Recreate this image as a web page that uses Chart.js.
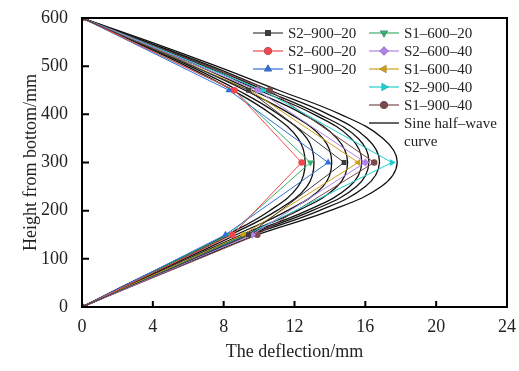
<!DOCTYPE html>
<html>
<head>
<meta charset="utf-8">
<script src="https://cdn.jsdelivr.net/npm/chart.js@4"></script>
<style>
  html, body { margin: 0; padding: 0; background: #fff; }
  #wrap { width: 519px; height: 371px; }
</style>
</head>
<body>
<div id="wrap"><canvas id="c" width="519" height="371"></canvas></div>
<script>
// measured points: heights (mm) and deflections (mm)
const markerHeights = [0, 150, 300, 450, 600];
const s2_900_20 = [0, 9.4, 14.8, 9.4, 0];
const s2_600_20 = [0, 8.5, 12.4, 8.6, 0];
const s1_900_20 = [0, 8.1, 13.9, 8.3, 0];
const s1_600_20 = [0, 8.3, 12.9, 8.6, 0];
const s2_600_40 = [0, 9.6, 16.0, 9.9, 0];
const s1_600_40 = [0, 9.1, 15.6, 9.5, 0];
const s2_900_40 = [0, 9.3, 17.5, 10.2, 0];
const s1_900_40 = [0, 9.9, 16.5, 10.6, 0];

// sine half-wave curves
const curveHeights = [0, 50, 100, 150, 200, 250, 300, 350, 400, 450, 500, 550, 600];
const sine1 = [0, 2.7, 5.5, 8.2, 10.6, 12.2, 12.6, 12.2, 10.7, 8.5, 5.9, 3.0, 0];
const sine2 = [0, 2.8, 5.6, 8.4, 11.0, 12.7, 13.1, 12.7, 11.1, 8.8, 6.1, 3.1, 0];
const sine3 = [0, 2.9, 5.8, 8.7, 11.6, 13.6, 14.1, 13.6, 11.8, 9.2, 6.3, 3.2, 0];
const sine4 = [0, 3.0, 6.0, 9.0, 12.2, 14.4, 15.0, 14.4, 12.5, 9.6, 6.6, 3.3, 0];
const sine5 = [0, 3.0, 6.1, 9.2, 12.7, 15.1, 15.8, 15.2, 13.1, 10.0, 6.9, 3.5, 0];
const sine6 = [0, 3.1, 6.2, 9.4, 13.0, 15.5, 16.2, 15.6, 13.4, 10.3, 7.1, 3.6, 0];
const sine7 = [0, 3.1, 6.3, 9.6, 13.4, 16.0, 16.8, 16.1, 13.9, 10.6, 7.3, 3.7, 0];
const sine8 = [0, 3.2, 6.5, 9.9, 14.0, 16.9, 17.8, 17.0, 14.6, 11.1, 7.6, 3.9, 0];

const xTicks = [0, 4, 8, 12, 16, 20, 24];
const yTicks = [0, 100, 200, 300, 400, 500, 600];

const SERIF = "'Liberation Serif', 'DejaVu Serif', serif";

const series = [
  { label: 'S2\u2013900\u201320', data: s2_900_20, color: '#3d3d3d', style: 'rect', rot: 0, r: 3.5 },
  { label: 'S2\u2013600\u201320', data: s2_600_20, color: '#f0484e', style: 'circle', rot: 0, r: 3.3 },
  { label: 'S1\u2013900\u201320', data: s1_900_20, color: '#2f6fd6', style: 'triangle', rot: 0, r: 4 },
  { label: 'S1\u2013600\u201320', data: s1_600_20, color: '#3aae6e', style: 'triangle', rot: 180, r: 4 },
  { label: 'S2\u2013600\u201340', data: s2_600_40, color: '#b283e6', style: 'rectRot', rot: 0, r: 4 },
  { label: 'S1\u2013600\u201340', data: s1_600_40, color: '#cf9f12', style: 'triangle', rot: -90, r: 4 },
  { label: 'S2\u2013900\u201340', data: s2_900_40, color: '#1fcfcf', style: 'triangle', rot: 90, r: 4 },
  { label: 'S1\u2013900\u201340', data: s1_900_40, color: '#7b4b4b', style: 'circle', rot: 0, r: 3.3 }
];
const sines = [sine1, sine2, sine3, sine4, sine5, sine6, sine7, sine8];

const datasets = series.map(s => ({
  label: s.label,
  data: s.data.map((x, i) => ({ x, y: markerHeights[i] })),
  showLine: true, borderColor: s.color, backgroundColor: s.color,
  borderWidth: 1, pointStyle: s.style, rotation: s.rot, pointRadius: s.r,
  pointBorderWidth: 0, tension: 0, order: 0
}));
sines.forEach((c, k) => datasets.push({
  label: k === 0 ? 'Sine half\u2013wave curve' : '',
  data: c.map((x, i) => ({ x, y: curveHeights[i] })),
  showLine: true, borderColor: '#111', backgroundColor: '#111',
  borderWidth: 1.3, pointRadius: 0, tension: 0.4, order: 1
}));

// box, inward ticks and the two-column legend
const frame = {
  id: 'frame',
  afterDraw(chart) {
    const { ctx, chartArea: a, scales } = chart;
    ctx.save();
    ctx.strokeStyle = '#000';
    ctx.lineWidth = 2;
    ctx.strokeRect(a.left, a.top, a.right - a.left, a.bottom - a.top);
    ctx.beginPath();
    xTicks.forEach(v => {
      const px = scales.x.getPixelForValue(v);
      ctx.moveTo(px, a.bottom); ctx.lineTo(px, a.bottom - 6);
    });
    yTicks.forEach(v => {
      const py = scales.y.getPixelForValue(v);
      ctx.moveTo(a.left, py); ctx.lineTo(a.left + 7, py);
    });
    ctx.stroke();

    ctx.font = '15px ' + SERIF;
    ctx.textBaseline = 'middle';
    ctx.fillStyle = '#222';
    const rowH = 18;
    series.forEach((s, i) => {
      const col = i < 3 ? 0 : 1;
      const row = i < 3 ? i : i - 3;
      const x0 = col === 0 ? 253 : 369;
      const y0 = 33 + row * rowH;
      ctx.strokeStyle = s.color; ctx.lineWidth = 1.2;
      ctx.beginPath(); ctx.moveTo(x0, y0); ctx.lineTo(x0 + 30, y0); ctx.stroke();
      Chart.helpers.drawPoint(ctx, { pointStyle: s.style, rotation: s.rot, radius: s.r + 0.5, borderWidth: 0 }, x0 + 15, y0);
      ctx.fillStyle = s.color; ctx.fill();
      ctx.fillStyle = '#222';
      ctx.fillText(s.label, x0 + 35, y0 + 1);
    });
    const ys = 33 + 5 * rowH;
    ctx.strokeStyle = '#111'; ctx.lineWidth = 1.3;
    ctx.beginPath(); ctx.moveTo(369, ys); ctx.lineTo(399, ys); ctx.stroke();
    ctx.fillText('Sine half\u2013wave', 404, ys + 1);
    ctx.fillText('curve', 404, ys + 19);
    ctx.restore();
  }
};

new Chart(document.getElementById('c'), {
  type: 'scatter',
  data: { datasets },
  options: {
    responsive: false, animation: false,
    layout: { padding: { top: 18, right: 12, left: 0, bottom: 0 } },
    plugins: { legend: { display: false }, tooltip: { enabled: false } },
    scales: {
      x: {
        type: 'linear', min: 0, max: 24,
        afterBuildTicks: s => { s.ticks = xTicks.map(v => ({ value: v })); },
        afterFit: s => { s.height = 64; },
        grid: { display: false }, border: { display: false },
        ticks: { color: '#222', padding: 1, font: { family: SERIF, size: 18 }, maxRotation: 0 },
        title: { display: true, text: 'The deflection/mm', color: '#222',
          font: { family: SERIF, size: 18 }, padding: { top: 0, bottom: 8 } }
      },
      y: {
        type: 'linear', min: 0, max: 600,
        afterBuildTicks: s => { s.ticks = yTicks.map(v => ({ value: v })); },
        afterFit: s => { s.width = 82; },
        grid: { display: false }, border: { display: false },
        ticks: { color: '#222', padding: 6, font: { family: SERIF, size: 18 } },
        title: { display: true, text: 'Height from bottom/mm', color: '#222',
          font: { family: SERIF, size: 18 }, padding: { top: 20, bottom: 0 } }
      }
    }
  },
  plugins: [frame]
});
</script>
</body>
</html>
